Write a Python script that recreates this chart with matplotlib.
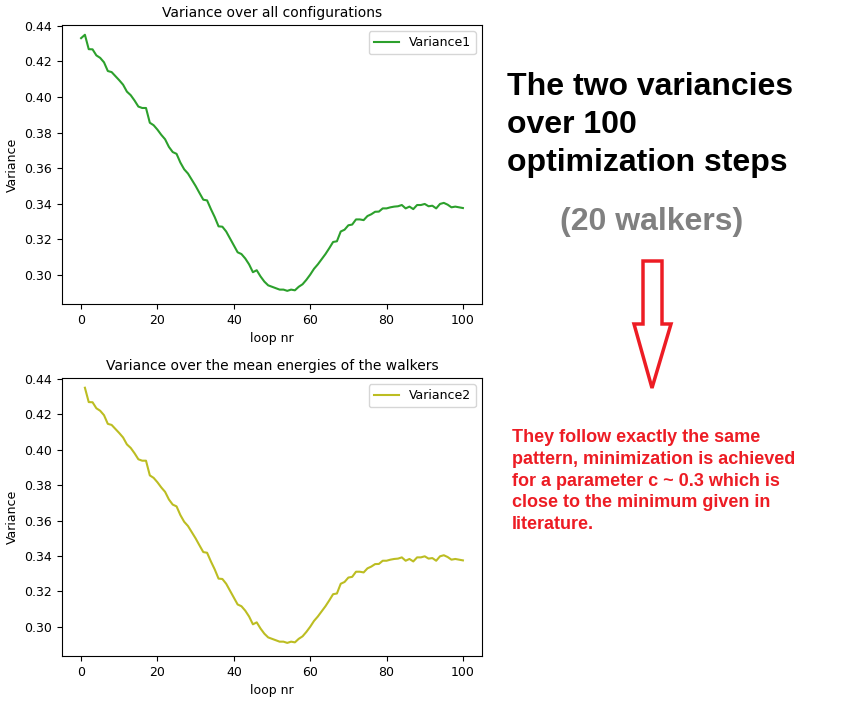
import matplotlib
matplotlib.use("Agg")
import matplotlib.pyplot as plt
from matplotlib.patches import Polygon

loops1 = list(range(0, 101))
variance1 = [0.4331, 0.4350, 0.4269, 0.4268, 0.4234, 0.4220, 0.4195, 0.4146, 0.4140, 0.4117,
             0.4094, 0.4069, 0.4030, 0.4010, 0.3980, 0.3946, 0.3938, 0.3938, 0.3855, 0.3841,
             0.3816, 0.3787, 0.3762, 0.3719, 0.3690, 0.3680, 0.3631, 0.3593, 0.3569, 0.3534,
             0.3499, 0.3460, 0.3422, 0.3418, 0.3369, 0.3324, 0.3272, 0.3270, 0.3243, 0.3204,
             0.3165, 0.3126, 0.3116, 0.3091, 0.3058, 0.3014, 0.3025, 0.2990, 0.2961, 0.2940,
             0.2932, 0.2924, 0.2916, 0.2916, 0.2909, 0.2916, 0.2912, 0.2932, 0.2946, 0.2971,
             0.3000, 0.3033, 0.3058, 0.3087, 0.3116, 0.3149, 0.3184, 0.3188, 0.3243, 0.3253,
             0.3278, 0.3282, 0.3311, 0.3311, 0.3307, 0.3330, 0.3340, 0.3354, 0.3355, 0.3373,
             0.3373, 0.3379, 0.3383, 0.3385, 0.3392, 0.3373, 0.3383, 0.3369, 0.3392, 0.3392,
             0.3398, 0.3385, 0.3388, 0.3373, 0.3398, 0.3404, 0.3394, 0.3379, 0.3383, 0.3379,
             0.3375]
loops2 = list(range(1, 101))
variance2 = variance1[1:]

yticks = [0.30, 0.32, 0.34, 0.36, 0.38, 0.40, 0.42, 0.44]
xticks = [0, 20, 40, 60, 80, 100]

W, H = 850, 709
fig = plt.figure(figsize=(8.5, 7.09), dpi=100)

def ax_at(l, t, r, b):
    return fig.add_axes([l / W, 1 - b / H, (r - l) / W, (b - t) / H])

for (t, b, x, y, col, lab, title) in [
    (25, 304, loops1, variance1, "#2ca02c", "Variance1", "Variance over all configurations"),
    (378, 656, loops2, variance2, "#bcbd22", "Variance2", "Variance over the mean energies of the walkers"),
]:
    ax = ax_at(62, t, 482, b)
    ax.plot(x, y, color=col, lw=1.5, label=lab)
    ax.set_xlim(-5, 105)
    ax.set_ylim(0.2835, 0.4405)
    ax.set_yticks(yticks)
    ax.set_yticklabels([f"{v:.2f}" for v in yticks])
    ax.set_xticks(xticks)
    ax.tick_params(labelsize=9)
    ax.set_xlabel("loop nr", fontsize=9)
    ax.set_ylabel("Variance", fontsize=9)
    ax.set_title(title, fontsize=10)
    ax.legend(loc="upper right", fontsize=9)

def fx(x): return x / W
def fy(y): return 1 - y / H

fig.text(fx(507), fy(125), "The two variancies\nover 100\noptimization steps",
         fontsize=23, fontweight="bold", color="black", va="center", ha="left",
         linespacing=1.35, family="Liberation Sans")
fig.text(fx(652), fy(222), "(20 walkers)", fontsize=23, fontweight="bold",
         color="#808080", va="center", ha="center", family="Liberation Sans")

arrow = [(643, 261), (662, 261), (662, 324), (671, 324), (652, 388),
         (634, 324), (643, 324)]
fig.patches.append(Polygon([(fx(a), fy(b)) for a, b in arrow], closed=True,
                           fill=False, edgecolor="#ed1c24", lw=2.5,
                           transform=fig.transFigure, figure=fig))

fig.text(fx(512), fy(481),
         "They follow exactly the same\npattern, minimization is achieved\nfor a parameter c ~ 0.3 which is\nclose to the minimum given in\nliterature.",
         fontsize=13, fontweight="bold", color="#ed1c24", va="center", ha="left",
         linespacing=1.35, family="Liberation Sans")

fig.savefig("out.png", dpi=100)
